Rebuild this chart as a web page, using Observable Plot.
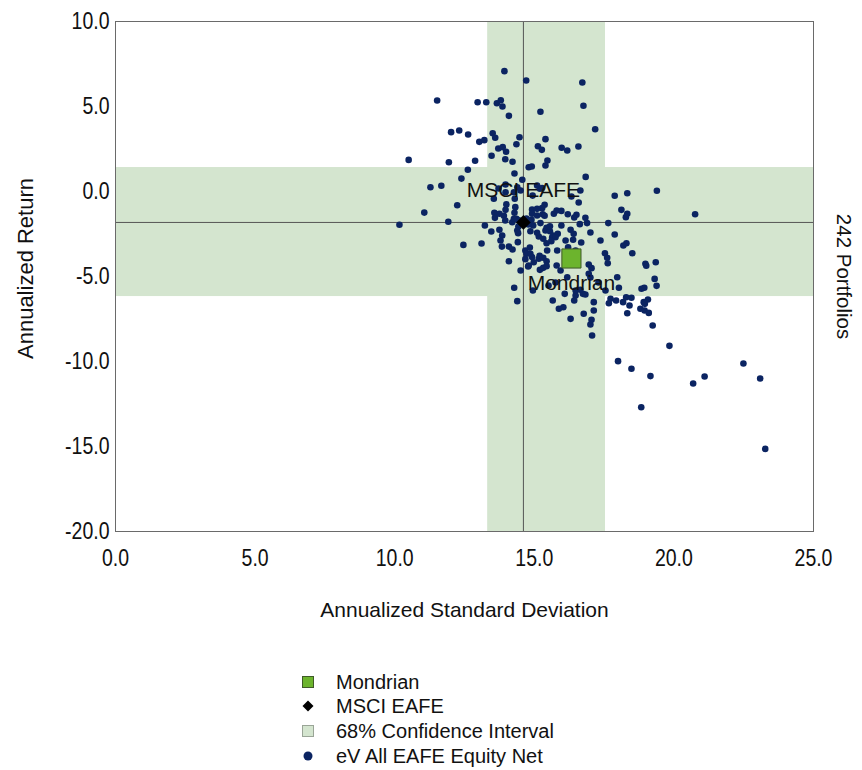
<!DOCTYPE html>
<html>
<head>
<meta charset="utf-8">
<script src="https://cdn.jsdelivr.net/npm/d3@7"></script>
<script src="https://cdn.jsdelivr.net/npm/@observablehq/plot@0.6"></script>
<style>
  html, body { margin: 0; padding: 0; background: #fff; }
  body { width: 862px; height: 770px; position: relative; font-family: "Liberation Sans", Arial, sans-serif; }
  #legend { position: absolute; left: 0; top: 0; width: 862px; }
  .row { position: absolute; left: 300px; height: 24px; display: flex; align-items: center; font-size: 20px; color: #111; }
  .mk { width: 16px; height: 16px; display: flex; align-items: center; justify-content: center; margin-right: 20px; }
</style>
</head>
<body>
<div id="chart"></div>
<div id="legend"></div>
<script>
// ---- data ----
const xTicks = [0, 5, 10, 15, 20, 25];
const yTicks = [-20, -15, -10, -5, 0, 5, 10];

const managerName = "Mondrian";
const managerSD = 16.33;
const managerReturn = -3.94;

const benchmarkName = "MSCI EAFE";
const benchmarkSD = 14.61;
const benchmarkReturn = -1.82;

// 68% confidence interval (std dev band, return band)
const ciSD = [13.33, 17.55];
const ciReturn = [-6.18, 1.41];

const universeName = "eV All EAFE Equity Net";
const universeCountLabel = "242 Portfolios";

const portfolioSD = [
  13.93, 11.52, 12.97, 13.28, 13.66, 13.80, 13.86, 14.09, 12.02, 12.31, 12.63, 13.51, 13.60, 13.03, 13.21, 14.47,
  14.36, 13.71, 13.87, 13.99, 10.50, 11.94, 12.88, 13.47, 13.96, 14.22, 12.62, 14.29, 12.39, 11.28, 11.67, 13.97,
  14.71, 16.72, 15.22, 16.76, 17.18, 15.40, 15.13, 15.27, 15.98, 16.18, 16.58, 15.47, 15.40, 14.80, 14.91, 16.84,
  14.57, 14.39, 15.10, 16.65,
  12.24, 11.06, 10.17, 11.92, 12.46, 13.11, 13.23, 13.46, 13.75, 13.85, 13.84, 14.09, 14.22, 14.09, 13.55, 13.57,
  13.59, 13.75, 13.91, 13.97, 14.00, 14.32, 14.29, 13.96, 14.21, 14.36, 14.39, 14.42, 14.41, 13.97, 14.27, 14.30,
  15.20, 15.37, 15.28, 14.92, 15.70, 15.80, 14.92, 15.10, 14.90, 15.22, 14.86, 15.40, 15.16, 15.32, 15.64, 15.84,
  14.68, 14.72, 15.46, 15.82, 14.92, 15.16, 14.98, 14.80, 15.20, 15.80,
  17.88, 18.33, 16.59, 16.33, 15.10, 15.30, 15.97, 16.20, 16.43, 16.51, 14.83, 16.63, 16.89, 17.65, 18.12, 18.33,
  18.28, 17.88, 18.30, 18.19, 18.51, 15.10, 15.44, 15.56, 15.68, 16.30, 16.39, 16.68, 16.12, 15.44, 14.86, 14.68,
  15.19, 15.32, 15.44, 14.78, 15.32, 17.53, 17.63, 17.05, 17.97, 16.74, 16.48, 15.66, 16.04, 17.73, 18.18, 18.41,
  14.95, 14.28, 14.39,
  16.83, 16.41, 16.21, 15.76, 17.61, 18.98, 16.95, 17.01, 18.03, 18.84, 16.18, 16.48, 16.65, 16.83, 16.09, 16.43,
  17.13, 17.13, 16.77, 15.88, 16.30, 17.93, 18.29, 18.48, 18.92, 18.80,
  19.39, 20.76, 19.35, 19.01, 19.31, 19.38, 18.94, 19.07, 18.96, 18.95, 19.10,
  17.05, 17.01, 17.07, 17.67, 18.33, 19.24, 19.84, 18.00, 18.48, 19.16, 20.69, 21.10, 22.49, 23.09, 18.83, 23.27,
  15.28, 15.37, 14.96, 15.56, 15.61, 14.84, 14.45, 14.72, 14.43, 14.79, 15.44, 14.27, 13.72, 14.51, 14.94, 15.97,
  16.12, 16.48, 15.94, 17.30, 17.55, 15.51, 14.51, 17.37, 17.01, 15.76, 13.79, 16.95
];

const portfolioReturn = [
  7.08, 5.35, 5.25, 5.25, 5.19, 5.37, 5.00, 4.45, 3.49, 3.59, 3.35, 3.43, 3.16, 2.92, 3.02, 3.19,
  2.78, 2.53, 2.61, 2.34, 1.86, 1.72, 1.81, 2.10, 1.90, 1.75, 1.28, 1.06, 0.76, 0.25, 0.34, 0.41,
  6.53, 6.41, 4.69, 5.04, 3.66, 3.08, 2.66, 2.45, 2.57, 2.41, 2.65, 1.82, 1.53, 1.43, 1.47, 0.86,
  0.69, 0.25, 0.35, 0.06,
  -0.81, -1.24, -1.96, -1.78, -3.14, -3.06, -2.00, -2.35, -2.25, -2.59, -3.24, -3.24, -3.41, -4.10, -0.43, -1.25,
  -1.55, -1.31, -1.43, -1.08, -0.76, -0.92, -1.25, -1.71, -1.81, -1.61, -2.29, -2.45, -2.98, -0.04, -0.04, -0.43,
  0.16, -0.78, -0.98, -1.06, -1.31, -1.12, -1.31, -1.41, -1.66, -1.86, -2.34, -2.29, -2.65, -2.78, -2.69, -2.49,
  -3.47, -3.66, -3.47, -3.47, -3.86, -3.96, -4.16, -4.35, -4.61, -4.35,
  -0.25, -0.10, -0.65, -0.29, -1.02, -1.34, -1.14, -1.34, -1.53, -1.37, -1.78, -1.92, -1.86, -1.86, -1.08, -1.31,
  -1.51, -2.53, -3.04, -3.18, -3.63, -2.43, -2.14, -2.34, -2.59, -2.25, -2.84, -3.00, -2.88, -3.04, -3.66, -3.98,
  -3.78, -3.90, -4.10, -4.41, -4.49, -3.63, -4.22, -4.51, -5.04, -6.02, -6.12, -6.41, -6.81, -6.31, -6.51, -6.71,
  -5.82, -5.66, -6.45,
  -1.55, -2.49, -3.28, -2.69, -3.90, -4.25, -4.84, -5.06, -5.66, -5.72, -5.04, -5.82, -5.78, -6.06, -6.02, -6.41,
  -6.51, -7.00, -7.19, -6.90, -7.49, -6.41, -6.22, -6.25, -6.51, -6.90,
  0.04, -1.34, -4.16, -4.37, -5.14, -5.55, -5.66, -6.35, -6.61, -7.00, -7.14,
  -7.55, -7.82, -8.47, -6.57, -7.16, -7.88, -9.08, -9.98, -10.43, -10.86, -11.29, -10.88, -10.12, -11.00, -12.69, -15.14,
  0.20, -1.43, -2.00, -2.05, -2.92, -3.30, -1.70, -1.59, -2.06, -1.94, -4.39, -1.61, 0.18, 0.06, -0.24, -2.00,
  -3.76, -3.47, -4.65, -5.35, -5.82, -5.53, -4.65, -2.88, -2.41, -5.35, -2.88, -4.30
];

// ---- styling ----
const navy = "#0b2462";
const bandGreen = "#d4e5cf";
const mondrianGreen = "#6cb42d";
const fontFamily = "'Liberation Sans', Arial, sans-serif";

const portfolios = portfolioSD.map((sd, i) => ({sd, ret: portfolioReturn[i]}));
const fmt = d => d.toFixed(1);

const chart = Plot.plot({
  width: 862,
  height: 640,
  marginLeft: 115,
  marginRight: 49,
  marginTop: 21,
  marginBottom: 109,
  style: {fontFamily, fontSize: "19.5px", color: "#111", background: "white", overflow: "visible"},
  x: {domain: [0, 25], ticks: xTicks, tickFormat: fmt, tickSize: 0, tickPadding: 18, label: null},
  y: {domain: [-20, 10], ticks: yTicks, tickFormat: fmt, tickSize: 0, tickPadding: 6, label: null},
  marks: [
    Plot.rect([{x1: ciSD[0], x2: ciSD[1]}], {x1: "x1", x2: "x2", y1: -20, y2: 10, fill: bandGreen}),
    Plot.rect([{y1: ciReturn[0], y2: ciReturn[1]}], {x1: 0, x2: 25, y1: "y1", y2: "y2", fill: bandGreen}),
    Plot.ruleX([benchmarkSD], {stroke: "#555", strokeWidth: 1}),
    Plot.ruleY([benchmarkReturn], {stroke: "#555", strokeWidth: 1}),
    Plot.frame({stroke: "#6a6a6a", strokeWidth: 1}),
    Plot.dot(portfolios, {x: "sd", y: "ret", r: 3.3, fill: navy, stroke: "none"}),
    Plot.dot([{sd: benchmarkSD, ret: benchmarkReturn}], {x: "sd", y: "ret", symbol: "diamond2", r: 6.6, fill: "#000", stroke: "none"}),
    Plot.dot([{sd: managerSD, ret: managerReturn}], {x: "sd", y: "ret", symbol: "square", r: 10.8, fill: mondrianGreen, stroke: "#3f5a28", strokeWidth: 1}),
    Plot.text([{sd: benchmarkSD, ret: benchmarkReturn, t: benchmarkName}], {x: "sd", y: "ret", text: "t", dy: -32, fontSize: 21, fill: "#111"}),
    Plot.text([{sd: managerSD, ret: managerReturn, t: managerName}], {x: "sd", y: "ret", text: "t", dy: 25, fontSize: 21, fill: "#111"}),
    Plot.text(["Annualized Return"], {frameAnchor: "left", textAnchor: "middle", lineAnchor: "middle", dx: -90, dy: -8, rotate: -90, fontSize: 22, fill: "#111"}),
    Plot.text([universeCountLabel], {frameAnchor: "right", textAnchor: "middle", lineAnchor: "middle", dx: 30, rotate: 90, fontSize: 20.5, fill: "#111"}),
    Plot.text(["Annualized Standard Deviation"], {frameAnchor: "bottom", lineAnchor: "middle", dy: 79, fontSize: 21, fill: "#111"})
  ]
});
// tick labels in the reference are drawn slightly taller than wide
chart.querySelectorAll('g[aria-label="x-axis tick label"] text, g[aria-label="y-axis tick label"] text').forEach(t => {
  const tr = t.getAttribute("transform") || "";
  t.setAttribute("transform", (tr + " scale(1,1.2)").trim());
});
document.getElementById("chart").append(chart);

// ---- legend (HTML, below the SVG) ----
const legendItems = [
  {label: managerName, svg: `<svg width="12" height="12"><rect x="0.5" y="0.5" width="11" height="11" fill="${mondrianGreen}" stroke="#3f5a28"/></svg>`},
  {label: benchmarkName, svg: `<svg width="12" height="12"><path d="M6 0.5 L11.5 6 L6 11.5 L0.5 6Z" fill="#000"/></svg>`},
  {label: "68% Confidence Interval", svg: `<svg width="12" height="12"><rect x="0.5" y="0.5" width="11" height="11" fill="${bandGreen}" stroke="#9aa597"/></svg>`},
  {label: universeName, svg: `<svg width="12" height="12"><circle cx="6" cy="6" r="4.5" fill="${navy}"/></svg>`}
];
const legendTops = [670, 694, 719, 744];
const legend = document.getElementById("legend");
legendItems.forEach((it, i) => {
  const row = document.createElement("div");
  row.className = "row";
  row.style.top = legendTops[i] + "px";
  row.innerHTML = `<span class="mk">${it.svg}</span><span>${it.label}</span>`;
  legend.append(row);
});
</script>
</body>
</html>
